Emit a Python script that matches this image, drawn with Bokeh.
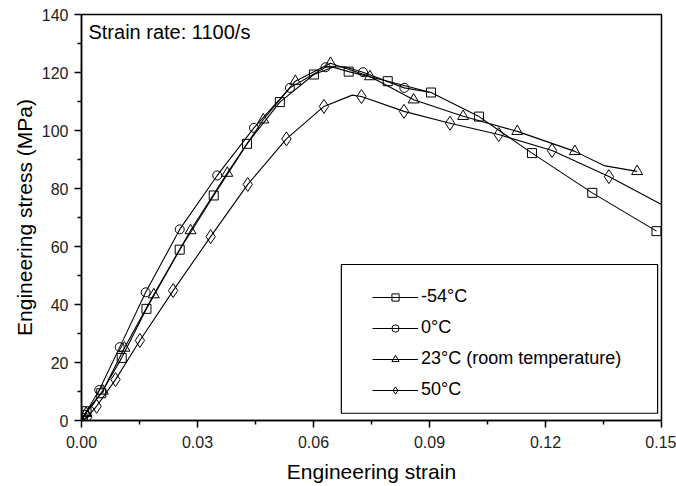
from bokeh.plotting import figure
from bokeh.models import Legend, LegendItem, FixedTicker, BoxAnnotation, Label, Range1d
from bokeh.embed import file_html
from bokeh.resources import INLINE

# ---- data ----
labels = ["-54\u00b0C", "0\u00b0C", "23\u00b0C (room temperature)", "50\u00b0C"]
markers = ["square", "circle", "triangle", "diamond"]

m54_x = [0.0003, 0.0013, 0.0051, 0.0104, 0.0168, 0.0254, 0.0342, 0.0428, 0.0513, 0.0601,
         0.0691, 0.0792, 0.0904, 0.1028, 0.1165, 0.1321, 0.1487]
m54_y = [0.8, 3.2, 9.4, 21.6, 38.5, 58.9, 77.6, 95.4, 109.8, 119.3,
         120.3, 117.0, 113.1, 104.8, 92.2, 78.5, 65.3]
m54_curve_x = [0.0, 0.065]
m54_curve_y = [0.0, 121.8]

c0_x = [0.0008, 0.0046, 0.0099, 0.0166, 0.0254, 0.0351, 0.0446, 0.0539, 0.0631, 0.0728, 0.0835]
c0_y = [2.0, 10.5, 25.3, 44.2, 65.9, 84.5, 100.9, 114.7, 121.8, 120.1, 114.7]
c0_curve_x = [0.0, 0.068, 0.0900]
c0_curve_y = [0.0, 122.0, 113.2]

c23_x = [0.0012, 0.0055, 0.0111, 0.0187, 0.0282, 0.0377, 0.0470, 0.0553, 0.0644, 0.0746,
         0.0859, 0.0987, 0.1127, 0.1276, 0.1437]
c23_y = [2.5, 10.2, 25.0, 43.4, 65.5, 85.3, 103.7, 117.0, 123.2, 118.6,
         110.6, 104.9, 99.7, 92.8, 85.9]
c23_curve_x = [0.0, 0.1351]
c23_curve_y = [0.0, 87.9]

c50_x = [0.0015, 0.0039, 0.0088, 0.0151, 0.0237, 0.0334, 0.0430, 0.0530, 0.0627, 0.0724,
         0.0834, 0.0953, 0.1079, 0.1217, 0.1364]
c50_y = [1.2, 4.9, 14.1, 27.6, 44.8, 63.4, 81.4, 97.1, 108.3, 111.7,
         106.6, 102.5, 98.6, 93.1, 84.1]
c50_curve_x = [0.0, 0.070, 0.150]
c50_curve_y = [0.0, 112.2, 74.5]

x_ticks = [0.0, 0.03, 0.06, 0.09, 0.12, 0.15]
x_tick_labels = ["0.00", "0.03", "0.06", "0.09", "0.12", "0.15"]
x_minor = [0.015, 0.045, 0.075, 0.105, 0.135]
y_ticks = [0, 20, 40, 60, 80, 100, 120, 140]
y_minor = [10, 30, 50, 70, 90, 110, 130]

series = [
    (m54_x, m54_y, m54_curve_x, m54_curve_y, 9),
    (c0_x, c0_y, c0_curve_x, c0_curve_y, 9),
    (c23_x, c23_y, c23_curve_x, c23_curve_y, 11),
    (c50_x, c50_y, c50_curve_x, c50_curve_y, 14),
]

FONT = "Liberation Sans"

p = figure(width=676, height=486, output_backend="svg", toolbar_location=None,
           x_range=Range1d(0, 0.15), y_range=Range1d(0, 140),
           min_border_left=81, min_border_right=15, min_border_top=14, min_border_bottom=66)
p.xgrid.visible = False
p.ygrid.visible = False
p.outline_line_color = "black"
p.outline_line_width = 1.5
p.outline_line_alpha = 1.0
p.background_fill_color = "white"

items = []
for (mx, my, cx, cy, sz), lab, mk in zip(series, labels, markers):
    pts = sorted(zip(list(mx) + list(cx), list(my) + list(cy)))
    lx = [a for a, b in pts]
    ly = [b for a, b in pts]
    r_line = p.line(lx, ly, line_color="black", line_width=1.1)
    r_mk = p.scatter(mx, my, marker=mk, size=sz, fill_color=None, line_color="black", line_width=1)
    items.append(LegendItem(label=lab, renderers=[r_line, r_mk]))

# axes styling
for ax in (p.xaxis[0], p.yaxis[0]):
    ax.axis_line_width = 1.5
    ax.major_tick_line_width = 1.5
    ax.minor_tick_line_width = 1.5
    ax.major_tick_out = 7
    ax.major_tick_in = 0
    ax.minor_tick_out = 4
    ax.minor_tick_in = 0
    ax.major_label_text_font = FONT
    ax.major_label_text_font_size = "16px"
    ax.major_label_text_color = "#222222"
    ax.axis_label_text_font = FONT
    ax.axis_label_text_font_size = "21px"
    ax.axis_label_text_font_style = "normal"
    ax.axis_label_text_color = "black"

p.xaxis[0].ticker = FixedTicker(ticks=x_ticks, minor_ticks=x_minor)
p.xaxis[0].major_label_overrides = {t: s for t, s in zip(x_ticks, x_tick_labels)}
p.yaxis[0].ticker = FixedTicker(ticks=y_ticks, minor_ticks=y_minor)
p.xaxis[0].axis_label = "Engineering strain"
p.yaxis[0].axis_label = "Engineering stress (MPa)"
p.xaxis[0].major_label_standoff = 8
p.xaxis[0].axis_label_standoff = 9
p.yaxis[0].major_label_standoff = 6
p.yaxis[0].axis_label_standoff = 3

# annotation text
p.add_layout(Label(x=0.0018, y=134.1, text="Strain rate: 1100/s", text_font=FONT,
                   text_font_size="20px", text_baseline="middle", text_align="left",
                   text_color="black"))

# legend frame
p.add_layout(BoxAnnotation(left=0.0672, right=0.1490, bottom=2.5, top=53.8,
                           fill_color="white", fill_alpha=1.0,
                           line_color="black", line_alpha=1.0, line_width=1.2))

legend = Legend(items=items, location=(291, 15), padding=0, margin=0, spacing=0,
                glyph_width=46, glyph_height=18, label_height=31, label_standoff=3,
                border_line_color=None, background_fill_alpha=0,
                label_text_font=FONT, label_text_font_size="18px", label_text_color="black")
p.add_layout(legend, "center")

open("out.html", "w").write(file_html(p, INLINE))
